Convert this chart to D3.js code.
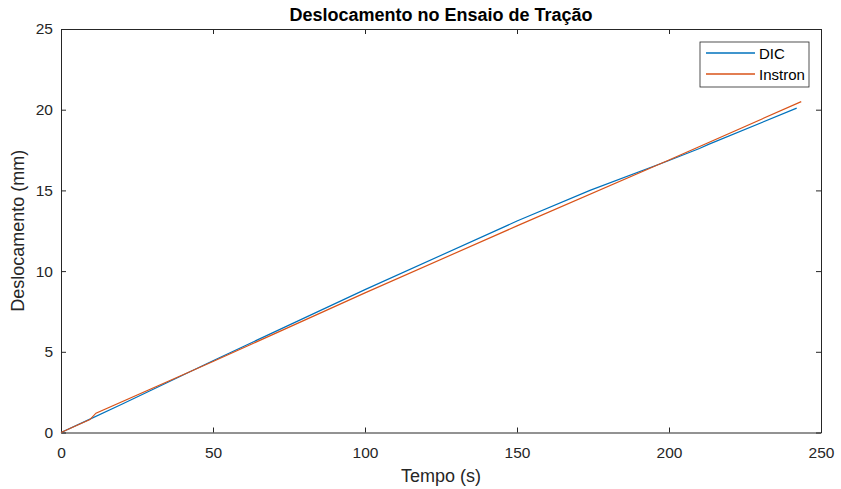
<!DOCTYPE html>
<html>
<head>
<meta charset="utf-8">
<script src="https://cdn.jsdelivr.net/npm/d3@7"></script>
<style>
  body { margin: 0; background: #fff; }
  svg { font-family: "Liberation Sans", Arial, sans-serif; }
</style>
</head>
<body>
<div id="plot"></div>
<script>
// Data
const seriesNames = ["DIC", "Instron"];
const seriesColors = ["#0072BD", "#D95319"];
const dicTime = [0, 9, 20, 50, 100, 150, 174, 200, 210, 213, 242];
const dicDisp = [0, 0.78, 1.75, 4.45, 8.85, 13.1, 15.0, 16.85, 17.6, 17.85, 20.1];
const instronTime = [0, 9.5, 11.5, 50, 100, 150, 200, 243.5];
const instronDisp = [0, 0.8, 1.2, 4.4, 8.65, 12.8, 16.88, 20.5];
const xTicks = [0, 50, 100, 150, 200, 250];
const yTicks = [0, 5, 10, 15, 20, 25];

const W = 841, H = 489;
const margin = { top: 29, right: 20, bottom: 56.5, left: 61 };
const width = W - margin.left - margin.right;
const height = H - margin.top - margin.bottom;
const axisColor = "#262626";

const svg = d3.select("#plot")
  .append("svg")
  .attr("width", W)
  .attr("height", H);

const g = svg.append("g")
  .attr("transform", `translate(${margin.left},${margin.top})`);

const x = d3.scaleLinear().domain([0, 250]).range([0, width]);
const y = d3.scaleLinear().domain([0, 25]).range([height, 0]);

// Axes (MATLAB style: ticks inward, box on)
function styleAxis(sel) {
  sel.select(".domain").attr("stroke", axisColor);
  sel.selectAll(".tick line").attr("stroke", axisColor);
  sel.selectAll(".tick text").attr("fill", axisColor).style("font-size", "15.5px");
}

g.append("g")
  .attr("transform", `translate(0,${height})`)
  .call(d3.axisBottom(x).tickValues(xTicks).tickSizeInner(-5).tickSizeOuter(0).tickPadding(14))
  .call(styleAxis);

g.append("g")
  .call(d3.axisLeft(y).tickValues(yTicks).tickSizeInner(-5).tickSizeOuter(0).tickPadding(8))
  .call(styleAxis);

g.append("g")
  .call(d3.axisTop(x).tickValues(xTicks).tickSizeInner(-5).tickSizeOuter(0).tickFormat(""))
  .call(styleAxis);

g.append("g")
  .attr("transform", `translate(${width},0)`)
  .call(d3.axisRight(y).tickValues(yTicks).tickSizeInner(-5).tickSizeOuter(0).tickFormat(""))
  .call(styleAxis);

// Lines
const line = d3.line()
  .x(d => x(d[0]))
  .y(d => y(d[1]));

const series = [
  { name: seriesNames[0], color: seriesColors[0], values: d3.zip(dicTime, dicDisp) },
  { name: seriesNames[1], color: seriesColors[1], values: d3.zip(instronTime, instronDisp) }
];

g.selectAll(".line")
  .data(series)
  .enter()
  .append("path")
  .attr("class", "line")
  .attr("d", d => line(d.values))
  .attr("fill", "none")
  .attr("stroke", d => d.color)
  .attr("stroke-width", 1.2);

// Title
svg.append("text")
  .attr("text-anchor", "middle")
  .attr("x", margin.left + width / 2)
  .attr("y", 21)
  .style("font-size", "18px")
  .style("font-weight", "bold")
  .attr("fill", "#000")
  .text("Deslocamento no Ensaio de Tração");

// Axis labels
svg.append("text")
  .attr("text-anchor", "middle")
  .attr("x", margin.left + width / 2)
  .attr("y", 482)
  .style("font-size", "18px")
  .attr("fill", axisColor)
  .text("Tempo (s)");

svg.append("text")
  .attr("text-anchor", "middle")
  .attr("transform", `translate(24,${margin.top + height / 2}) rotate(-90)`)
  .style("font-size", "18px")
  .attr("fill", axisColor)
  .text("Deslocamento (mm)");

// Legend
const legend = svg.append("g")
  .attr("transform", "translate(700,42)");

legend.append("rect")
  .attr("width", 109)
  .attr("height", 45)
  .attr("fill", "#fff")
  .attr("stroke", axisColor)
  .attr("stroke-width", 0.8);

const items = legend.selectAll(".legend")
  .data(series)
  .enter()
  .append("g")
  .attr("class", "legend")
  .attr("transform", (_, i) => `translate(0,${11 + i * 21})`);

items.append("line")
  .attr("x1", 6)
  .attr("x2", 55)
  .attr("stroke", d => d.color)
  .attr("stroke-width", 1.3);

items.append("text")
  .attr("x", 59)
  .attr("y", 6)
  .style("font-size", "15px")
  .attr("fill", "#000")
  .text(d => d.name);
</script>
</body>
</html>
